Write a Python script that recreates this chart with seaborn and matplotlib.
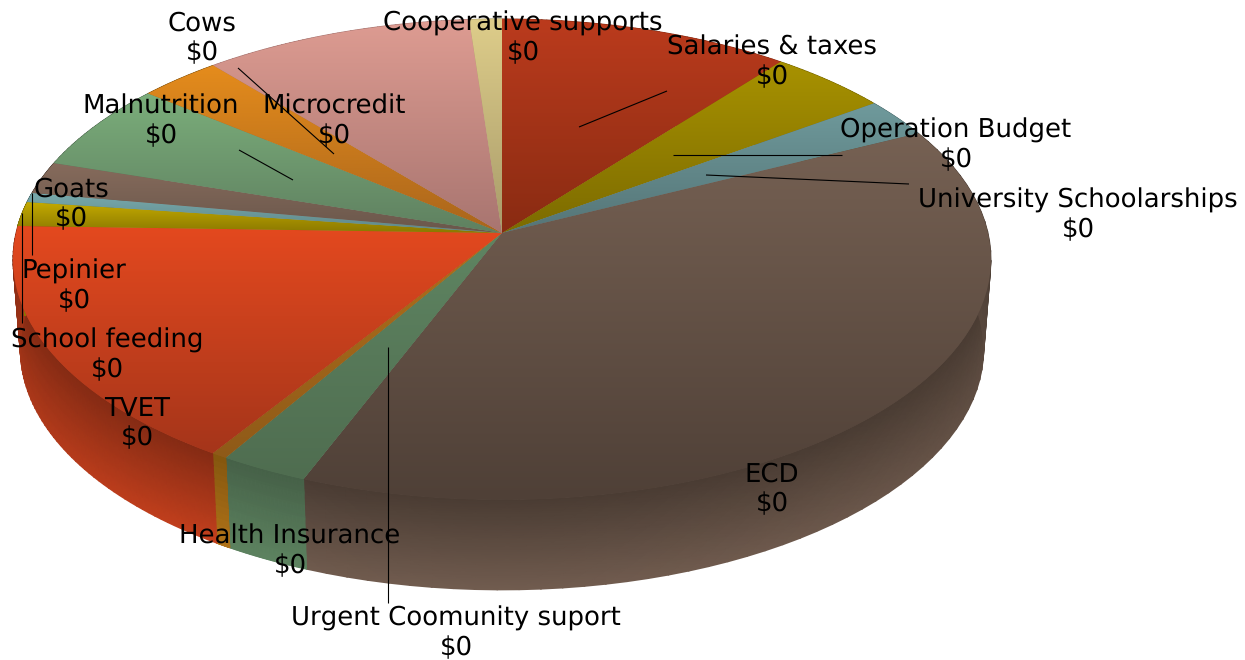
import numpy as np
import matplotlib
matplotlib.use("Agg")
import matplotlib.pyplot as plt
from matplotlib.transforms import Transform
import seaborn as sns

names = ["Salaries & taxes", "Operation Budget", "University Schoolarships", "ECD",
         "Urgent Coomunity suport", "Health Insurance", "TVET", "School feeding",
         "Pepinier", "Goats", "Malnutrition", "Cows", "Microcredit", "Cooperative supports"]
shares = [38.5, 16.0, 9.4, 137.6, 9.5, 1.7, 59.0, 5.9, 2.3, 7.8, 21.2, 11.0, 35.8, 4.3]
amounts = ["$0"] * len(names)

top_light = ["#bb3b1d", "#a89200", "#6f9a9c", "#766153", "#5f8562", "#b0701c", "#e4491f", "#c4aa00",
             "#78aaad", "#866b5c", "#7bae7b", "#e58c1c", "#de9c92", "#decd8a"]
top_dark = ["#892b12", "#7c6b00", "#557577", "#4f4037", "#4f6d50", "#8f5a18", "#a5351a", "#8a7800",
            "#5f8788", "#6a574b", "#5f8060", "#a9651c", "#a87570", "#a89b6a"]
side_dark = ["#892b12", "#7c6b00", "#557577", "#4a3c33", "#466148", "#85570f", "#852b14", "#7c6b00",
             "#557577", "#4a3c33", "#466148", "#85570f", "#a87570", "#a89b6a"]
side_light = ["#bb3b1d", "#a89200", "#6f9a9c", "#715c4f", "#5f8662", "#b6761a", "#cb421e", "#a89200",
              "#6f9a9c", "#715c4f", "#5f8662", "#b6761a", "#de9c92", "#decd8a"]

label_centers = [(772, 62), (956, 145), (1078, 215), (772, 489), (456, 633), (290, 551), (137, 423),
                 (107, 355), (74, 286), (71, 204), (161, 121), (202, 38), (334, 121), (523, 38)]
leaders = [((667, 91), (579, 127)), ((842, 155), (673, 155)), ((909, 184), (706, 175)),
           ((388, 603), (388, 347)), ((22, 213), (22, 323)), ((32, 193), (32, 255)),
           ((239, 150), (293, 180)), ((238, 68), (334, 154))]

CX, CY, K, A, C = 502.0, 233.0, 486.0, -211.9, 0.110
DEPTH, SHRINK = 90.0, 0.985


class Perspective(Transform):
    input_dims = output_dims = 2
    is_separable = False
    has_inverse = False

    def transform_non_affine(self, values):
        values = np.asarray(values, dtype=float)
        u, v = values[:, 0], values[:, 1]
        w = 1 + C * v
        return np.column_stack((CX + K * u / w, (CY + A * v) / w))


sns.set_theme(style="white")
plt.rcParams["font.family"] = ["DejaVu Sans"]
plt.rcParams["text.hinting"] = "no_hinting"
plt.rcParams["text.hinting_factor"] = 1
fig = plt.figure(figsize=(12.45, 6.6), dpi=100, facecolor="white")
ax = fig.add_axes([0, 0, 1, 1])
wedges, _ = ax.pie(shares, startangle=90, counterclock=False, colors=top_dark, radius=1)
ax.set_aspect("auto")
ax.set_xlim(0, 1245)
ax.set_ylim(660, 0)
ax.axis("off")
ax.autoscale(False)

persp = Perspective()
edges = np.concatenate(([0], np.cumsum(shares))) * 360.0 / np.sum(shares)

# side wall
for i in range(len(shares)):
    th = np.radians(np.linspace(edges[i], edges[i + 1], 60))
    rim = persp.transform(np.column_stack((np.sin(th), np.cos(th))))
    low = np.column_stack((CX + (rim[:, 0] - CX) * SHRINK, rim[:, 1] + DEPTH))
    t = np.linspace(0, 1, 8)[:, None]
    X = rim[:, 0] * (1 - t) + low[:, 0] * t
    Y = rim[:, 1] * (1 - t) + low[:, 1] * t
    Z = t * (0.35 + 0.65 * np.clip(-np.cos(th), 0, 1))[None, :]
    cmap = sns.blend_palette([side_dark[i], side_light[i]], as_cmap=True)
    ax.pcolormesh(X, Y, Z, cmap=cmap, shading="gouraud", vmin=0, vmax=1, zorder=1)

# top face
grad = np.linspace(0, 1, 256).reshape(-1, 1)
for i, w in enumerate(wedges):
    w.set_transform(persp + ax.transData)
    w.set_zorder(2)
    w.set_edgecolor("none")
    th = np.radians(np.linspace(edges[i], edges[i + 1], 80))
    pts = persp.transform(np.vstack(([0, 0], np.column_stack((np.sin(th), np.cos(th))))))
    cmap = sns.blend_palette([top_light[i], top_dark[i]], as_cmap=True)
    im = ax.imshow(grad, cmap=cmap, aspect="auto", origin="upper", vmin=0, vmax=1, zorder=3,
                   extent=(pts[:, 0].min(), pts[:, 0].max(), pts[:, 1].max(), pts[:, 1].min()))
    im.set_clip_path(w)

ax.set_xlim(0, 1245)
ax.set_ylim(660, 0)

for (p, q) in leaders:
    ax.plot([p[0], q[0]], [p[1], q[1]], color="black", lw=0.8, zorder=5, solid_capstyle="butt")

for name, amount, (x, y) in zip(names, amounts, label_centers):
    ax.text(x, y, f"{name}\n{amount}", ha="center", va="center", fontsize=18.7,
            linespacing=1.2, color="black", zorder=6)

fig.savefig("out.png", dpi=100, facecolor="white")
